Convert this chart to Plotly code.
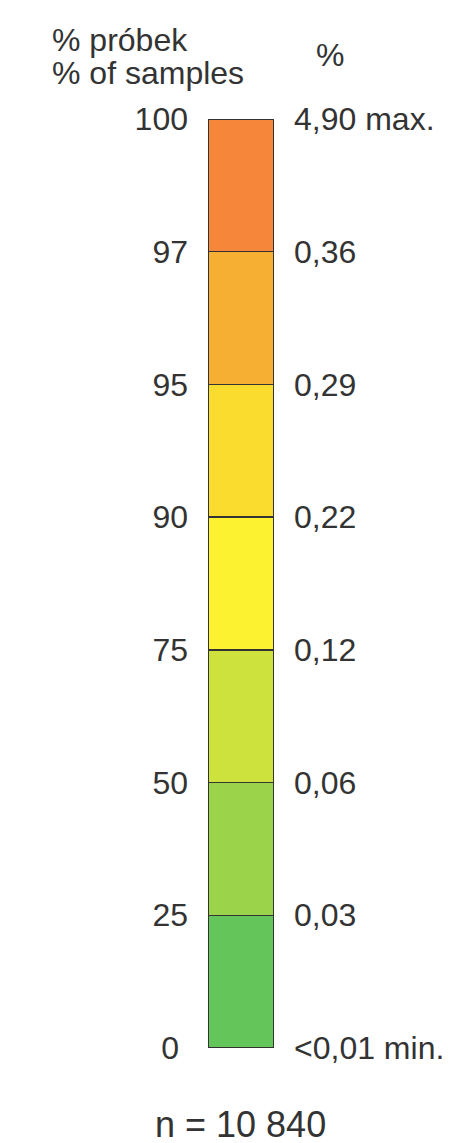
import plotly.graph_objects as go

# Data
percentiles = ["0", "25", "50", "75", "90", "95", "97", "100"]
value_labels = ["<0,01 min.", "0,03", "0,06", "0,12", "0,22", "0,29", "0,36", "4,90 max."]
class_names = ["0-25", "25-50", "50-75", "75-90", "90-95", "95-97", "97-100"]
class_heights = [1, 1, 1, 1, 1, 1, 1]
n_label = "n = 10 840"
left_title = ["% próbek", "% of samples"]
right_title = "%"

# Styles
colors = ["#63C55A", "#9BD44B", "#CDE23D", "#FDF22F", "#FADC2F", "#F6AE33", "#F5863A"]
text_color = "#333333"
font_family = "Liberation Sans, Arial, sans-serif"
fs = 32

W, H = 455, 1143
# page body adds an 8 px offset; compensate
OX, OY = 8, 8

fig = go.Figure()
for name, h, c in zip(class_names, class_heights, colors):
    fig.add_trace(go.Bar(
        x=["bar"], y=[h], name=name, marker=dict(color=c, line=dict(color="#333333", width=1.5)),
        width=1, showlegend=False, hoverinfo="skip"))

x0, x1 = (208 - OX) / W, (274 - OX) / W
ytop, ybot = 1 - (119 - OY) / H, 1 - (1048 - OY) / H
ticks_idx = list(range(len(percentiles)))
left_text = ["0\u00a0"] + percentiles[1:]

fig.update_layout(
    width=W, height=H, barmode="stack",
    margin=dict(l=0, r=0, t=0, b=0, pad=0),
    paper_bgcolor="white", plot_bgcolor="white",
    font=dict(family=font_family, size=fs, color=text_color),
    xaxis=dict(domain=[x0, x1], range=[-0.5, 0.5], visible=False, automargin=False),
    yaxis=dict(domain=[ybot, ytop], range=[0, 7], tickvals=ticks_idx, ticktext=left_text,
               showgrid=False, zeroline=False, showline=False, ticks="", automargin=False,
               ticklabelstandoff=19, tickfont=dict(size=fs, color=text_color)),
    yaxis2=dict(domain=[ybot, ytop], range=[0, 7], overlaying="y", side="right",
                tickvals=ticks_idx, ticktext=value_labels, showgrid=False, automargin=False,
                zeroline=False, showline=False, ticks="", anchor="x",
                ticklabelstandoff=19, tickfont=dict(size=fs, color=text_color)),
)
fig.add_trace(go.Scatter(x=["bar"], y=[0], yaxis="y2", mode="markers",
                         marker=dict(opacity=0), showlegend=False, hoverinfo="skip"))

def ann(text, px, py, anchor, size=fs):
    fig.add_annotation(text=text, xref="paper", yref="paper", x=(px - OX) / W, y=1 - (py - OY) / H,
                       xanchor=anchor, yanchor="middle", showarrow=False, font=dict(size=size))

ann(left_title[0], 50, 40, "left")
ann(left_title[1], 50, 73, "left")
ann(right_title, 330, 55, "center")
ann(n_label, 241, 1124, "center", 36)

fig.write_html("out.html")
